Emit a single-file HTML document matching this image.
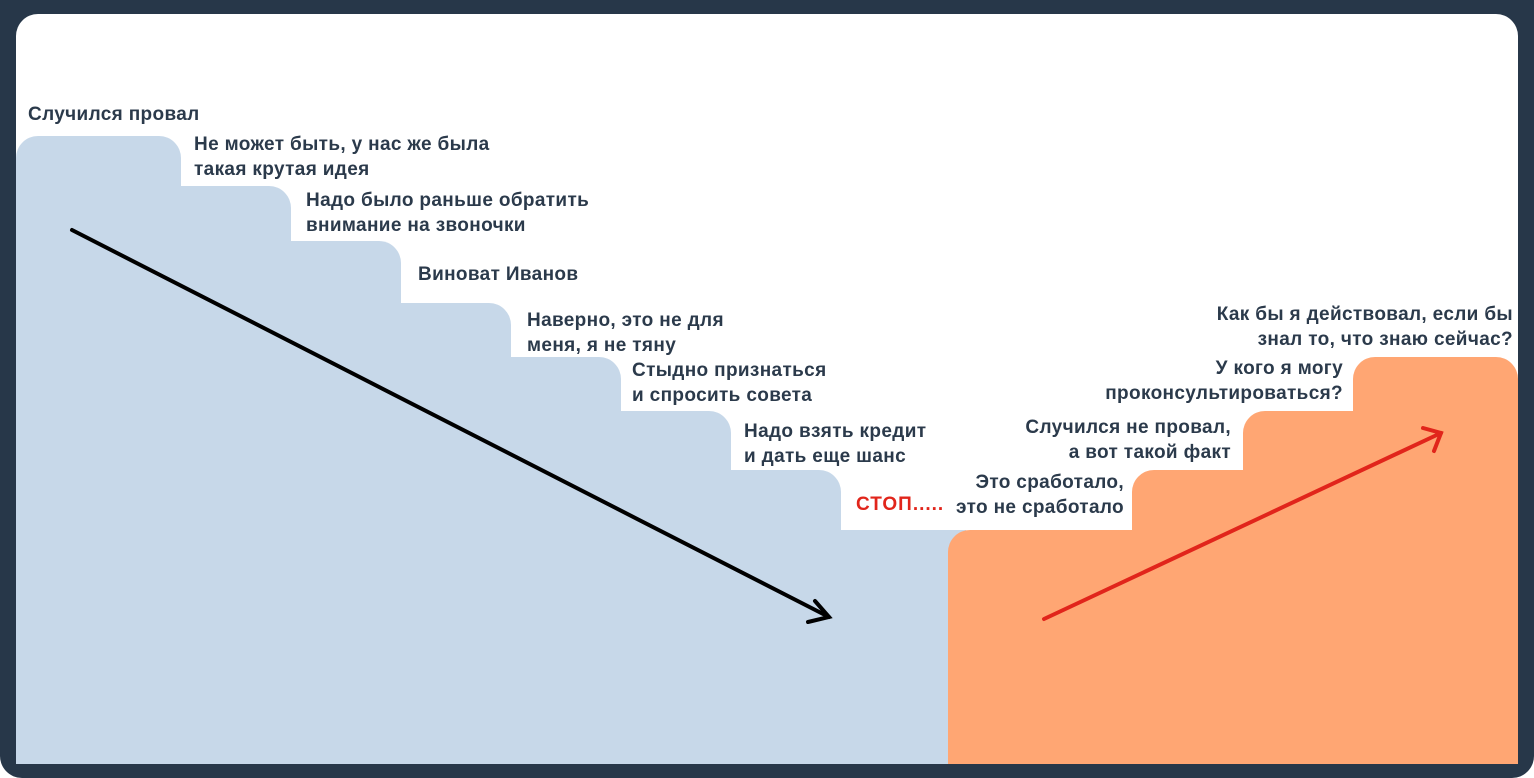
<!DOCTYPE html>
<html><head><meta charset="utf-8"><style>
html,body{margin:0;padding:0;background:#fff;}
#f{position:relative;width:1534px;height:778px;background:#273749;border-radius:0 0 22px 22px;overflow:hidden;}
#in{position:absolute;left:16px;top:14px;width:1502px;height:750px;background:#fff;border-radius:22px 22px 0 0;overflow:hidden;}
.b{position:absolute;background:#c7d8e9;bottom:-20px;}
.o{position:absolute;background:#ffa673;bottom:-20px;}
.t{position:absolute;font-family:"Liberation Sans","Noto Sans CJK SC",sans-serif;font-weight:bold;font-size:19px;letter-spacing:0.35px;line-height:24.5px;color:#2b3a4b;white-space:nowrap;}
.r{text-align:right;}
</style></head><body>
<div id="f"><div id="in">
<div class="b" style="left:0;top:122px;width:165px;border-radius:22px 22px 0 0;"></div>
<div class="b" style="left:0;top:172px;width:275px;border-radius:0 22px 0 0;"></div>
<div class="b" style="left:0;top:227px;width:385px;border-radius:0 22px 0 0;"></div>
<div class="b" style="left:0;top:289px;width:495px;border-radius:0 22px 0 0;"></div>
<div class="b" style="left:0;top:343px;width:605px;border-radius:0 22px 0 0;"></div>
<div class="b" style="left:0;top:397px;width:715px;border-radius:0 22px 0 0;"></div>
<div class="b" style="left:0;top:456px;width:825px;border-radius:0 22px 0 0;"></div>
<div class="b" style="left:0;top:516px;width:950px;"></div>
<div class="o" style="left:932px;top:516px;width:600px;border-radius:22px 0 0 0;"></div>
<div class="o" style="left:1116px;top:456px;width:400px;border-radius:22px 0 0 0;"></div>
<div class="o" style="left:1227px;top:397px;width:300px;border-radius:22px 0 0 0;"></div>
<div class="o" style="left:1337px;top:343px;width:165px;border-radius:22px 22px 0 0;"></div>
</div>
<svg width="1534" height="778" style="position:absolute;left:0;top:0">
<g stroke="#000" stroke-width="4" fill="none" stroke-linecap="round">
<line x1="72" y1="230" x2="829" y2="617"/>
<polyline points="815,601 829,617 808,622"/>
</g>
<g stroke="#e1251b" stroke-width="4" fill="none" stroke-linecap="round">
<line x1="1044" y1="619" x2="1441" y2="433"/>
<polyline points="1423,428 1441,433 1434,451"/>
</g>
</svg>
<div class="t" style="left:28px;top:103px;">Случился провал</div>
<div class="t" style="left:194px;top:133px;">Не может быть, у нас же была<br>такая крутая идея</div>
<div class="t" style="left:306px;top:189px;">Надо было раньше обратить<br>внимание на звоночки</div>
<div class="t" style="left:418px;top:263px;">Виноват Иванов</div>
<div class="t" style="left:527px;top:309px;">Наверно, это не для<br>меня, я не тяну</div>
<div class="t" style="left:632px;top:359px;">Стыдно признаться<br>и спросить совета</div>
<div class="t" style="left:744px;top:420px;">Надо взять кредит<br>и дать еще шанс</div>
<div class="t" style="left:856px;top:493px;color:#e1251b;letter-spacing:1px;">СТОП.....</div>
<div class="t r" style="right:410px;top:471px;">Это сработало,<br>это не сработало</div>
<div class="t r" style="right:303px;top:416px;">Случился не провал,<br>а вот такой факт</div>
<div class="t r" style="right:191px;top:357px;">У кого я могу<br>проконсультироваться?</div>
<div class="t r" style="right:21px;top:303px;">Как бы я действовал, если бы<br>знал то, что знаю сейчас?</div>
</div>
</body></html>
